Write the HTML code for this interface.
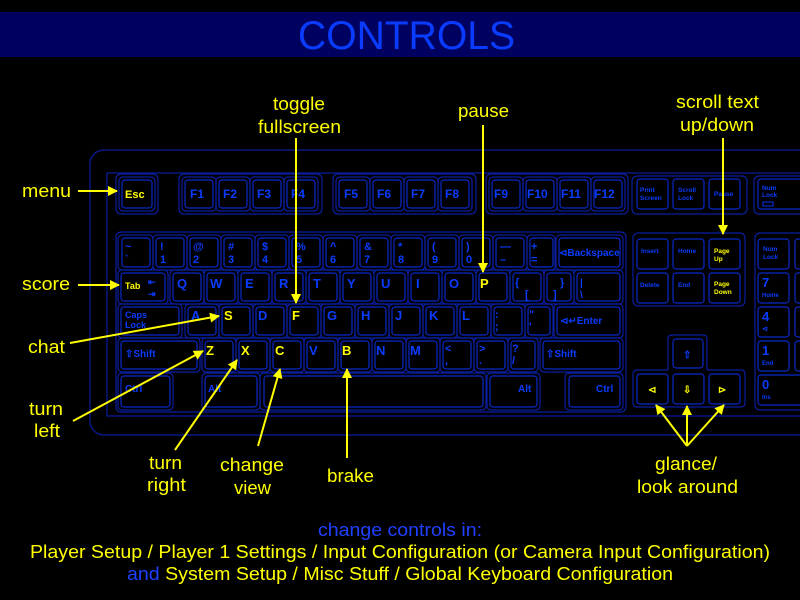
<!DOCTYPE html>
<html><head><meta charset="utf-8"><style>
html,body{margin:0;padding:0;background:#000;}
svg{display:block}
.f{fill:none;stroke:#0a1fa0;stroke-width:1.2}
.k{fill:none;stroke:#0a28c8;stroke-width:1.2}
.t{font-family:"Liberation Sans",sans-serif;font-weight:bold;fill:#0a3cff}
.y{fill:#ffff00}
.l{font-family:"Liberation Sans",sans-serif;fill:#ffff00;font-size:18px}
.a{stroke:#ffff00;stroke-width:2;fill:none}
</style></head><body>
<svg width="800" height="600" viewBox="0 0 800 600" xmlns="http://www.w3.org/2000/svg">
<defs><marker id="ar" markerWidth="10" markerHeight="10" refX="9" refY="5" orient="auto" markerUnits="userSpaceOnUse"><path d="M0,0 L10,5 L0,10 z" fill="#ffff00"/></marker></defs>
<rect x="0" y="0" width="800" height="600" fill="#000"/>
<rect x="0" y="12" width="800" height="45" fill="#000060"/>
<text x="298" y="49" font-family="Liberation Sans,sans-serif" font-size="40" fill="#0a3cff" textLength="217" lengthAdjust="spacingAndGlyphs">CONTROLS</text>

<rect class="f" x="90" y="150" width="760" height="285" rx="14"/>
<rect class="f" x="107" y="173" width="740" height="243"/>

<rect class="f" x="116" y="174" width="42" height="40" rx="5"/>
<rect class="f" x="179" y="174" width="143" height="40" rx="5"/>
<rect class="f" x="333" y="174" width="143" height="40" rx="5"/>
<rect class="f" x="486" y="174" width="142" height="40" rx="5"/>
<rect class="f" x="632" y="176" width="115" height="38" rx="5"/>
<rect class="f" x="754" y="176" width="60" height="38" rx="5"/>
<rect class="f" x="116" y="232" width="510" height="180" rx="5"/>
<rect class="f" x="633" y="233" width="112" height="73" rx="5"/>
<path class="f" d="M668,370 V339 q0,-4 4,-4 H703 q4,0 4,4 V370 H741 q4,0 4,4 V403 q0,4 -4,4 H637 q-4,0 -4,-4 V374 q0,-4 4,-4 z"/>
<rect class="f" x="755" y="233" width="60" height="177" rx="5"/>

<g id="keys">
<rect class="f" x="119" y="177" width="36" height="34" rx="4"/><rect class="k" x="122" y="180" width="30" height="28" rx="3"/>
<text class="t y" x="125" y="198" font-size="11">Esc</text>

<rect class="f" x="182" y="177" width="34" height="34" rx="4"/><rect class="k" x="185" y="180" width="28" height="28" rx="3"/><text class="t" x="190" y="198" font-size="12">F1</text>
<rect class="f" x="216" y="177" width="34" height="34" rx="4"/><rect class="k" x="219" y="180" width="28" height="28" rx="3"/><text class="t" x="223" y="198" font-size="12">F2</text>
<rect class="f" x="250" y="177" width="34" height="34" rx="4"/><rect class="k" x="253" y="180" width="28" height="28" rx="3"/><text class="t" x="257" y="198" font-size="12">F3</text>
<rect class="f" x="284" y="177" width="34" height="34" rx="4"/><rect class="k" x="287" y="180" width="28" height="28" rx="3"/><text class="t" x="291" y="198" font-size="12">F4</text>
<rect class="f" x="336" y="177" width="34" height="34" rx="4"/><rect class="k" x="339" y="180" width="28" height="28" rx="3"/><text class="t" x="344" y="198" font-size="12">F5</text>
<rect class="f" x="370" y="177" width="34" height="34" rx="4"/><rect class="k" x="373" y="180" width="28" height="28" rx="3"/><text class="t" x="377" y="198" font-size="12">F6</text>
<rect class="f" x="404" y="177" width="34" height="34" rx="4"/><rect class="k" x="407" y="180" width="28" height="28" rx="3"/><text class="t" x="411" y="198" font-size="12">F7</text>
<rect class="f" x="438" y="177" width="34" height="34" rx="4"/><rect class="k" x="441" y="180" width="28" height="28" rx="3"/><text class="t" x="445" y="198" font-size="12">F8</text>
<rect class="f" x="489" y="177" width="34" height="34" rx="4"/><rect class="k" x="492" y="180" width="28" height="28" rx="3"/><text class="t" x="494" y="198" font-size="12">F9</text>
<rect class="f" x="523" y="177" width="34" height="34" rx="4"/><rect class="k" x="526" y="180" width="28" height="28" rx="3"/><text class="t" x="527" y="198" font-size="12">F10</text>
<rect class="f" x="557" y="177" width="34" height="34" rx="4"/><rect class="k" x="560" y="180" width="28" height="28" rx="3"/><text class="t" x="561" y="198" font-size="12">F11</text>
<rect class="f" x="591" y="177" width="34" height="34" rx="4"/><rect class="k" x="594" y="180" width="28" height="28" rx="3"/><text class="t" x="594" y="198" font-size="12">F12</text>
<rect class="k" x="637" y="179" width="31" height="30" rx="3"/><text class="t" x="640" y="192" font-size="6.5">Print</text><text class="t" x="640" y="200" font-size="6.5">Screen</text>
<rect class="k" x="673" y="179" width="31" height="30" rx="3"/><text class="t" x="678" y="192" font-size="6.5">Scroll</text><text class="t" x="678" y="200" font-size="6.5">Lock</text>
<rect class="k" x="709" y="179" width="31" height="30" rx="3"/><text class="t" x="714" y="196" font-size="6.5">Pause</text>
<rect class="k" x="758" y="179" width="50" height="30" rx="3"/><text class="t" x="762" y="190" font-size="6.5">Num</text><text class="t" x="762" y="197" font-size="6.5">Lock</text><rect class="k" x="763" y="202" width="10" height="4"/>

<g font-size="11">
<rect class="f" x="118" y="235" width="35" height="35" rx="4"/><rect class="k" x="122" y="238" width="28" height="29" rx="3"/><text class="t" x="125" y="250">~</text><text class="t" x="125" y="263">`</text>
<rect class="f" x="153" y="235" width="34" height="35" rx="4"/><rect class="k" x="156" y="238" width="28" height="29" rx="3"/><text class="t" x="160" y="250">!</text><text class="t" x="160" y="263">1</text>
<rect class="f" x="187" y="235" width="34" height="35" rx="4"/><rect class="k" x="190" y="238" width="28" height="29" rx="3"/><text class="t" x="193" y="250">@</text><text class="t" x="193" y="263">2</text>
<rect class="f" x="221" y="235" width="34" height="35" rx="4"/><rect class="k" x="224" y="238" width="28" height="29" rx="3"/><text class="t" x="228" y="250">#</text><text class="t" x="228" y="263">3</text>
<rect class="f" x="255" y="235" width="34" height="35" rx="4"/><rect class="k" x="258" y="238" width="28" height="29" rx="3"/><text class="t" x="262" y="250">$</text><text class="t" x="262" y="263">4</text>
<rect class="f" x="289" y="235" width="34" height="35" rx="4"/><rect class="k" x="292" y="238" width="28" height="29" rx="3"/><text class="t" x="296" y="250">%</text><text class="t" x="296" y="263">5</text>
<rect class="f" x="323" y="235" width="34" height="35" rx="4"/><rect class="k" x="326" y="238" width="28" height="29" rx="3"/><text class="t" x="330" y="250">^</text><text class="t" x="330" y="263">6</text>
<rect class="f" x="357" y="235" width="34" height="35" rx="4"/><rect class="k" x="360" y="238" width="28" height="29" rx="3"/><text class="t" x="364" y="250">&amp;</text><text class="t" x="364" y="263">7</text>
<rect class="f" x="391" y="235" width="34" height="35" rx="4"/><rect class="k" x="394" y="238" width="28" height="29" rx="3"/><text class="t" x="398" y="250">*</text><text class="t" x="398" y="263">8</text>
<rect class="f" x="425" y="235" width="34" height="35" rx="4"/><rect class="k" x="428" y="238" width="28" height="29" rx="3"/><text class="t" x="432" y="250">(</text><text class="t" x="432" y="263">9</text>
<rect class="f" x="459" y="235" width="34" height="35" rx="4"/><rect class="k" x="462" y="238" width="28" height="29" rx="3"/><text class="t" x="466" y="250">)</text><text class="t" x="466" y="263">0</text>
<rect class="f" x="493" y="235" width="34" height="35" rx="4"/><rect class="k" x="496" y="238" width="28" height="29" rx="3"/><text class="t" x="500" y="250">—</text><text class="t" x="500" y="263">–</text>
<rect class="f" x="527" y="235" width="28" height="35" rx="4"/><rect class="k" x="530" y="238" width="23" height="29" rx="3"/><text class="t" x="531" y="250">+</text><text class="t" x="531" y="263">=</text>
<rect class="f" x="556" y="235" width="67" height="35" rx="4"/><rect class="k" x="559" y="238" width="61" height="29" rx="3"/><text class="t" x="559" y="256" font-size="10">⊲Backspace</text>
</g>

<g font-size="13">
<rect class="f" x="118" y="270" width="50" height="34" rx="4"/><rect class="k" x="121" y="273" width="44" height="28" rx="3"/><text class="t y" x="125" y="289" font-size="9">Tab</text><text class="t" x="148" y="285" font-size="9">⇤</text><text class="t" x="148" y="297" font-size="9">⇥</text>
<rect class="f" x="170" y="270" width="34" height="34" rx="4"/><rect class="k" x="173" y="273" width="28" height="28" rx="3"/><text class="t" x="177" y="288">Q</text>
<rect class="f" x="204" y="270" width="34" height="34" rx="4"/><rect class="k" x="207" y="273" width="28" height="28" rx="3"/><text class="t" x="210" y="288">W</text>
<rect class="f" x="238" y="270" width="34" height="34" rx="4"/><rect class="k" x="241" y="273" width="28" height="28" rx="3"/><text class="t" x="245" y="288">E</text>
<rect class="f" x="272" y="270" width="34" height="34" rx="4"/><rect class="k" x="275" y="273" width="28" height="28" rx="3"/><text class="t" x="279" y="288">R</text>
<rect class="f" x="306" y="270" width="34" height="34" rx="4"/><rect class="k" x="309" y="273" width="28" height="28" rx="3"/><text class="t" x="313" y="288">T</text>
<rect class="f" x="340" y="270" width="34" height="34" rx="4"/><rect class="k" x="343" y="273" width="28" height="28" rx="3"/><text class="t" x="347" y="288">Y</text>
<rect class="f" x="374" y="270" width="34" height="34" rx="4"/><rect class="k" x="377" y="273" width="28" height="28" rx="3"/><text class="t" x="381" y="288">U</text>
<rect class="f" x="408" y="270" width="34" height="34" rx="4"/><rect class="k" x="411" y="273" width="28" height="28" rx="3"/><text class="t" x="416" y="288">I</text>
<rect class="f" x="442" y="270" width="34" height="34" rx="4"/><rect class="k" x="445" y="273" width="28" height="28" rx="3"/><text class="t" x="449" y="288">O</text>
<rect class="f" x="476" y="270" width="34" height="34" rx="4"/><rect class="k" x="479" y="273" width="28" height="28" rx="3"/><text class="t y" x="480" y="288">P</text>
<rect class="f" x="510" y="270" width="34" height="34" rx="4"/><rect class="k" x="513" y="273" width="28" height="28" rx="3"/><text class="t" x="515" y="286" font-size="11">{</text><text class="t" x="525" y="298" font-size="11">[</text>
<rect class="f" x="544" y="270" width="30" height="34" rx="4"/><rect class="k" x="547" y="273" width="24" height="28" rx="3"/><text class="t" x="560" y="286" font-size="11">}</text><text class="t" x="553" y="298" font-size="11">]</text>
<rect class="f" x="574" y="270" width="49" height="34" rx="4"/><rect class="k" x="577" y="273" width="43" height="28" rx="3"/><text class="t" x="580" y="286" font-size="10">|</text><text class="t" x="580" y="298" font-size="10">\</text>
</g>

<g font-size="13">
<rect class="f" x="118" y="304" width="64" height="34" rx="4"/><rect class="k" x="121" y="307" width="58" height="28" rx="3"/><text class="t" x="125" y="318" font-size="9">Caps</text><text class="t" x="125" y="328" font-size="9">Lock</text>
<rect class="f" x="185" y="304" width="34" height="34" rx="4"/><rect class="k" x="188" y="307" width="28" height="28" rx="3"/><text class="t" x="191" y="320">A</text>
<rect class="f" x="219" y="304" width="34" height="34" rx="4"/><rect class="k" x="222" y="307" width="28" height="28" rx="3"/><text class="t y" x="224" y="320">S</text>
<rect class="f" x="253" y="304" width="34" height="34" rx="4"/><rect class="k" x="256" y="307" width="28" height="28" rx="3"/><text class="t" x="258" y="320">D</text>
<rect class="f" x="287" y="304" width="34" height="34" rx="4"/><rect class="k" x="290" y="307" width="28" height="28" rx="3"/><text class="t y" x="292" y="320">F</text>
<rect class="f" x="321" y="304" width="34" height="34" rx="4"/><rect class="k" x="324" y="307" width="28" height="28" rx="3"/><text class="t" x="327" y="320">G</text>
<rect class="f" x="355" y="304" width="34" height="34" rx="4"/><rect class="k" x="358" y="307" width="28" height="28" rx="3"/><text class="t" x="361" y="320">H</text>
<rect class="f" x="389" y="304" width="34" height="34" rx="4"/><rect class="k" x="392" y="307" width="28" height="28" rx="3"/><text class="t" x="395" y="320">J</text>
<rect class="f" x="423" y="304" width="34" height="34" rx="4"/><rect class="k" x="426" y="307" width="28" height="28" rx="3"/><text class="t" x="429" y="320">K</text>
<rect class="f" x="457" y="304" width="34" height="34" rx="4"/><rect class="k" x="460" y="307" width="28" height="28" rx="3"/><text class="t" x="462" y="320">L</text>
<rect class="f" x="491" y="304" width="34" height="34" rx="4"/><rect class="k" x="494" y="307" width="28" height="28" rx="3"/><text class="t" x="495" y="318" font-size="11">:</text><text class="t" x="495" y="330" font-size="11">;</text>
<rect class="f" x="525" y="304" width="28" height="34" rx="4"/><rect class="k" x="528" y="307" width="22" height="28" rx="3"/><text class="t" x="529" y="318" font-size="11">"</text><text class="t" x="529" y="330" font-size="11">'</text>
<rect class="f" x="554" y="304" width="69" height="34" rx="4"/><rect class="k" x="557" y="307" width="63" height="28" rx="3"/><text class="t" x="560" y="324" font-size="10">⊲↵Enter</text>
</g>

<g font-size="13">
<rect class="f" x="118" y="338" width="82" height="34" rx="4"/><rect class="k" x="121" y="341" width="76" height="28" rx="3"/><text class="t" x="125" y="357" font-size="10">⇧Shift</text>
<rect class="f" x="202" y="338" width="34" height="34" rx="4"/><rect class="k" x="205" y="341" width="28" height="28" rx="3"/><text class="t y" x="206" y="355">Z</text>
<rect class="f" x="236" y="338" width="34" height="34" rx="4"/><rect class="k" x="239" y="341" width="28" height="28" rx="3"/><text class="t y" x="241" y="355">X</text>
<rect class="f" x="270" y="338" width="34" height="34" rx="4"/><rect class="k" x="273" y="341" width="28" height="28" rx="3"/><text class="t y" x="275" y="355">C</text>
<rect class="f" x="304" y="338" width="34" height="34" rx="4"/><rect class="k" x="307" y="341" width="28" height="28" rx="3"/><text class="t" x="309" y="355">V</text>
<rect class="f" x="338" y="338" width="34" height="34" rx="4"/><rect class="k" x="341" y="341" width="28" height="28" rx="3"/><text class="t y" x="342" y="355">B</text>
<rect class="f" x="372" y="338" width="34" height="34" rx="4"/><rect class="k" x="375" y="341" width="28" height="28" rx="3"/><text class="t" x="376" y="355">N</text>
<rect class="f" x="406" y="338" width="34" height="34" rx="4"/><rect class="k" x="409" y="341" width="28" height="28" rx="3"/><text class="t" x="410" y="355">M</text>
<rect class="f" x="440" y="338" width="34" height="34" rx="4"/><rect class="k" x="443" y="341" width="28" height="28" rx="3"/><text class="t" x="445" y="352" font-size="11">&lt;</text><text class="t" x="445" y="364" font-size="11">,</text>
<rect class="f" x="474" y="338" width="34" height="34" rx="4"/><rect class="k" x="477" y="341" width="28" height="28" rx="3"/><text class="t" x="479" y="352" font-size="11">&gt;</text><text class="t" x="479" y="364" font-size="11">.</text>
<rect class="f" x="508" y="338" width="30" height="34" rx="4"/><rect class="k" x="511" y="341" width="24" height="28" rx="3"/><text class="t" x="512" y="352" font-size="11">?</text><text class="t" x="512" y="364" font-size="11">/</text>
<rect class="f" x="540" y="338" width="83" height="34" rx="4"/><rect class="k" x="543" y="341" width="77" height="28" rx="3"/><text class="t" x="546" y="357" font-size="10">⇧Shift</text>
</g>

<rect class="f" x="118" y="373" width="55" height="37" rx="4"/><rect class="k" x="121" y="376" width="49" height="31" rx="3"/><text class="t" x="125" y="392" font-size="10">Ctrl</text>
<rect class="f" x="202" y="373" width="58" height="37" rx="4"/><rect class="k" x="205" y="376" width="52" height="31" rx="3"/><text class="t" x="208" y="392" font-size="10">Alt</text>
<rect class="f" x="260" y="373" width="226" height="37" rx="4"/><rect class="k" x="264" y="376" width="219" height="31" rx="3"/>
<rect class="f" x="487" y="373" width="53" height="37" rx="4"/><rect class="k" x="490" y="376" width="47" height="31" rx="3"/><text class="t" x="518" y="392" font-size="10">Alt</text>
<rect class="f" x="565" y="373" width="58" height="37" rx="4"/><rect class="k" x="569" y="376" width="51" height="31" rx="3"/><text class="t" x="596" y="392" font-size="10">Ctrl</text>

<rect class="k" x="637" y="239" width="31" height="30" rx="3"/><text class="t" x="641" y="253" font-size="6.5">Insert</text>
<rect class="k" x="673" y="239" width="31" height="30" rx="3"/><text class="t" x="678" y="253" font-size="6.5">Home</text>
<rect class="k" x="709" y="239" width="31" height="30" rx="3"/><text class="t y" x="714" y="253" font-size="6.5">Page</text><text class="t y" x="714" y="261" font-size="6.5">Up</text>
<rect class="k" x="637" y="273" width="31" height="30" rx="3"/><text class="t" x="640" y="287" font-size="6.5">Delete</text>
<rect class="k" x="673" y="273" width="31" height="30" rx="3"/><text class="t" x="678" y="287" font-size="6.5">End</text>
<rect class="k" x="709" y="273" width="31" height="30" rx="3"/><text class="t y" x="714" y="286" font-size="6.5">Page</text><text class="t y" x="714" y="294" font-size="6.5">Down</text>
<rect class="k" x="673" y="339" width="30" height="29" rx="3"/><text class="t" x="683" y="358" font-size="10">⇧</text>
<rect class="k" x="637" y="374" width="31" height="30" rx="3"/><text class="t y" x="648" y="393" font-size="10">⊲</text>
<rect class="k" x="673" y="374" width="31" height="30" rx="3"/><text class="t y" x="683" y="393" font-size="10">⇩</text>
<rect class="k" x="709" y="374" width="31" height="30" rx="3"/><text class="t y" x="718" y="393" font-size="10">⊳</text>

<rect class="k" x="758" y="239" width="31" height="30" rx="3"/><text class="t" x="763" y="251" font-size="6.5">Num</text><text class="t" x="763" y="259" font-size="6.5">Lock</text>
<rect class="k" x="795" y="239" width="31" height="30" rx="3"/>
<rect class="k" x="758" y="273" width="31" height="30" rx="3"/><text class="t" x="762" y="287" font-size="13">7</text><text class="t" x="762" y="297" font-size="6">Home</text>
<rect class="k" x="795" y="273" width="31" height="30" rx="3"/>
<rect class="k" x="758" y="307" width="31" height="30" rx="3"/><text class="t" x="762" y="321" font-size="13">4</text><text class="t" x="762" y="331" font-size="7">⊲</text>
<rect class="k" x="795" y="307" width="31" height="30" rx="3"/>
<rect class="k" x="758" y="341" width="31" height="30" rx="3"/><text class="t" x="762" y="355" font-size="13">1</text><text class="t" x="762" y="365" font-size="6">End</text>
<rect class="k" x="795" y="341" width="31" height="30" rx="3"/>
<rect class="k" x="758" y="375" width="60" height="30" rx="3"/><text class="t" x="762" y="389" font-size="13">0</text><text class="t" x="762" y="399" font-size="6">Ins</text>
</g>

<g class="l">
<text x="22" y="197" textLength="49" lengthAdjust="spacingAndGlyphs">menu</text>
<text x="22" y="290" textLength="48" lengthAdjust="spacingAndGlyphs">score</text>
<text x="28" y="353" textLength="37" lengthAdjust="spacingAndGlyphs">chat</text>
<text x="29" y="415" textLength="34" lengthAdjust="spacingAndGlyphs">turn</text>
<text x="34" y="437" textLength="26" lengthAdjust="spacingAndGlyphs">left</text>
<text x="149" y="469" textLength="33" lengthAdjust="spacingAndGlyphs">turn</text>
<text x="147" y="491" textLength="39" lengthAdjust="spacingAndGlyphs">right</text>
<text x="220" y="471" textLength="64" lengthAdjust="spacingAndGlyphs">change</text>
<text x="234" y="494" textLength="37" lengthAdjust="spacingAndGlyphs">view</text>
<text x="327" y="482" textLength="47" lengthAdjust="spacingAndGlyphs">brake</text>
<text x="273" y="110" textLength="52" lengthAdjust="spacingAndGlyphs">toggle</text>
<text x="258" y="133" textLength="83" lengthAdjust="spacingAndGlyphs">fullscreen</text>
<text x="458" y="117" textLength="51" lengthAdjust="spacingAndGlyphs">pause</text>
<text x="676" y="108" textLength="83" lengthAdjust="spacingAndGlyphs">scroll text</text>
<text x="680" y="131" textLength="74" lengthAdjust="spacingAndGlyphs">up/down</text>
<text x="655" y="470" textLength="62" lengthAdjust="spacingAndGlyphs">glance/</text>
<text x="637" y="493" textLength="101" lengthAdjust="spacingAndGlyphs">look around</text>
</g>

<g class="a" marker-end="url(#ar)">
<line x1="78" y1="191" x2="117" y2="191"/>
<line x1="78" y1="285" x2="119" y2="285"/>
<line x1="70" y1="343" x2="219" y2="316"/>
<line x1="73" y1="421" x2="203" y2="351"/>
<line x1="175" y1="450" x2="237" y2="360"/>
<line x1="258" y1="446" x2="280" y2="369"/>
<line x1="347" y1="458" x2="347" y2="369"/>
<line x1="296" y1="138" x2="296" y2="303"/>
<line x1="483" y1="125" x2="483" y2="272"/>
<line x1="723" y1="138" x2="723" y2="234"/>
<line x1="687" y1="446" x2="656" y2="405"/>
<line x1="687" y1="446" x2="687" y2="406"/>
<line x1="687" y1="446" x2="724" y2="405"/>
</g>

<g font-family="Liberation Sans,sans-serif" font-size="18">
<text x="318" y="536" fill="#2040ff" textLength="164" lengthAdjust="spacingAndGlyphs">change controls in:</text>
<text x="30" y="558" fill="#ffff00" textLength="740" lengthAdjust="spacingAndGlyphs">Player Setup / Player 1 Settings / Input Configuration (or Camera Input Configuration)</text>
<text x="127" y="580" fill="#ffff00" textLength="546" lengthAdjust="spacingAndGlyphs"><tspan fill="#2040ff">and</tspan> System Setup / Misc Stuff / Global Keyboard Configuration</text>
</g>
</svg>
</body></html>
